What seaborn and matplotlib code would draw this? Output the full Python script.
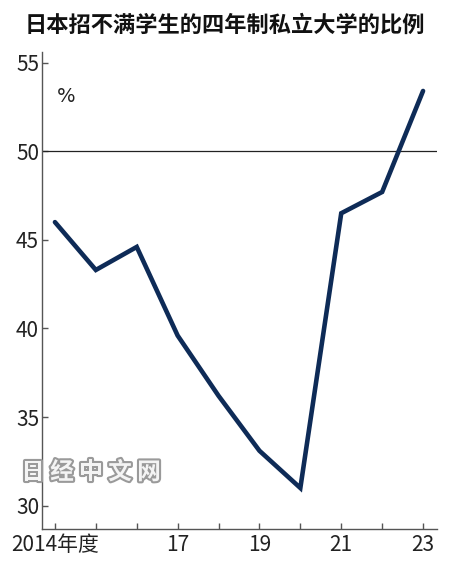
import numpy as np
import pandas as pd
import matplotlib
matplotlib.use("Agg")
import matplotlib.pyplot as plt
import matplotlib.patheffects as pe
import seaborn as sns

# --------------------- Data ---------------------
years = [2014, 2015, 2016, 2017, 2018, 2019, 2020, 2021, 2022, 2023]
ratio = [46.0, 43.3, 44.6, 39.6, 36.2, 33.1, 31.0, 46.5, 47.7, 53.4]
xtick_labels = ["2014年度", "", "", "17", "", "19", "", "21", "", "23"]
yticks = [30, 35, 40, 45, 50, 55]

TITLE = "日本招不满学生的四年制私立大学的比例"
WATERMARK = "日经中文网"
LINE_COLOR = "#0e2b57"

df = pd.DataFrame({"year": years, "ratio": ratio})

# --------------------- Style ---------------------
sns.set_style("ticks")
plt.rcParams["font.family"] = ["Liberation Sans Narrow", "Noto Sans CJK SC", "DejaVu Sans"]

fig = plt.figure(figsize=(4.5, 5.71), dpi=100)
ax = fig.add_axes([0.093, 0.074, 0.878, 0.835])

sns.lineplot(data=df, x="year", y="ratio", ax=ax, color=LINE_COLOR,
             linewidth=3.3, solid_joinstyle="miter")
ax.axhline(50, color="#222222", linewidth=0.9, zorder=1)

ax.set_xlim(2013.68, 2023.34)
ax.set_ylim(28.7, 55.6)
ax.set_xticks(years)
ax.set_xticklabels(xtick_labels)
ax.set_yticks(yticks)
ax.set_yticklabels([str(v) for v in yticks])
ax.set_xlabel("")
ax.set_ylabel("")

for side in ["top", "right"]:
    ax.spines[side].set_visible(False)
for side in ["left", "bottom"]:
    ax.spines[side].set_color("#555555")
    ax.spines[side].set_linewidth(1.0)

ax.tick_params(axis="both", direction="in", length=4, width=1.0,
               color="#555555", labelsize=15, labelcolor="#222222")
ax.tick_params(axis="y", pad=2)
ax.tick_params(axis="x", pad=4)

ax.text(2014.05, 53.1, "%", fontsize=14, color="#222222",
        family=["DejaVu Sans"], va="center")

fig.text(0.5, 0.956, TITLE, ha="center", va="center", fontsize=16,
         fontweight="bold", family=["Noto Sans CJK SC"], color="#111111")

# watermark, one glyph at a time for the wide spacing
for i, ch in enumerate(WATERMARK):
    wm = fig.text((33 + 29 * i) / 450, 0.173, ch, fontsize=17, fontweight="bold",
                  family=["Noto Sans CJK SC"], color="#f4f4f4",
                  ha="center", va="center")
    wm.set_path_effects([pe.withStroke(linewidth=3, foreground="#9a9a9a")])

fig.savefig("out.png", dpi=100)
